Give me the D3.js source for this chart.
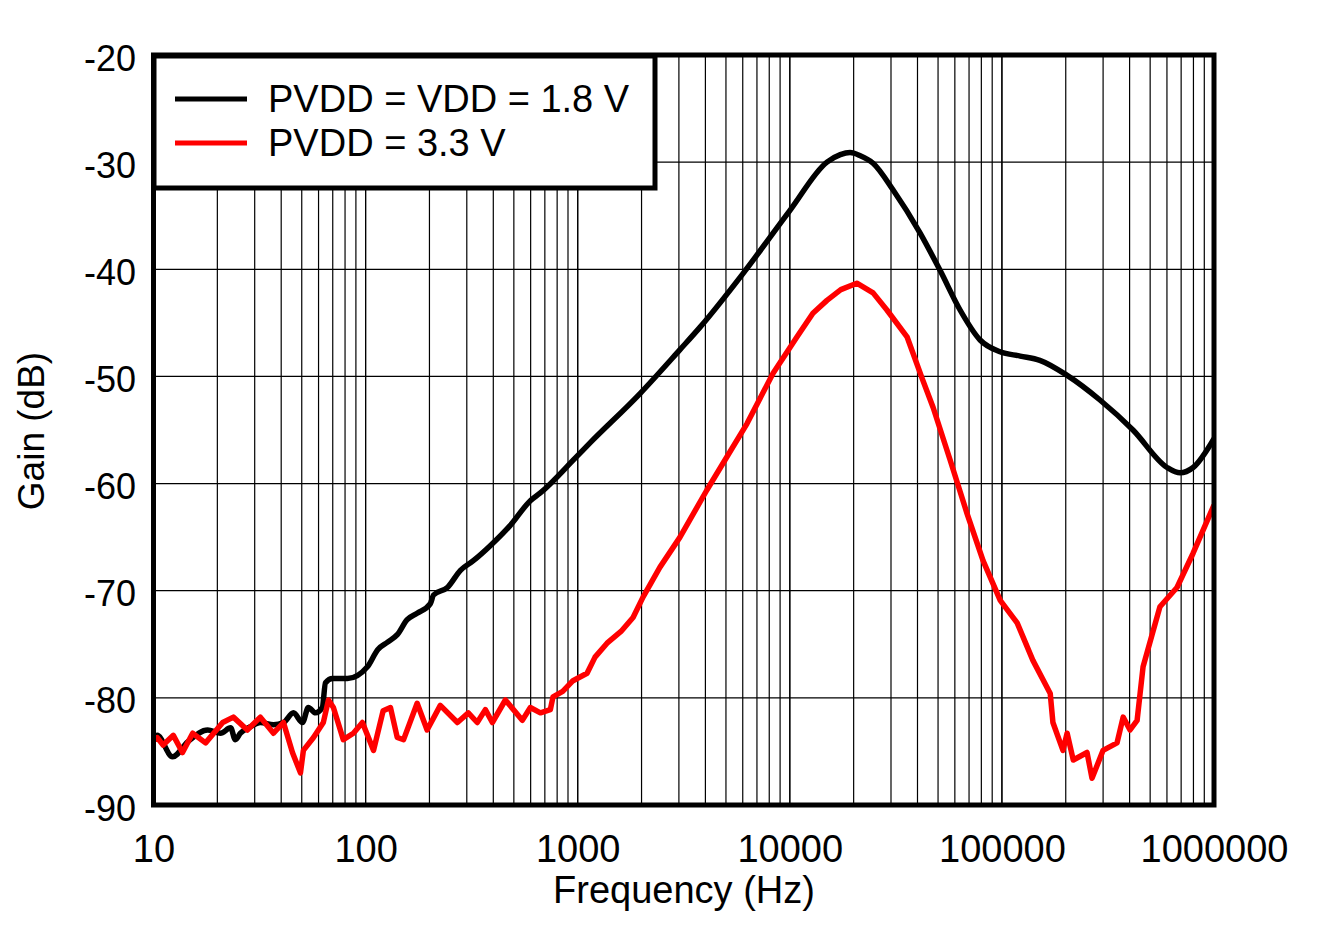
<!DOCTYPE html>
<html>
<head>
<meta charset="utf-8">
<script src="https://cdn.jsdelivr.net/npm/d3@7"></script>
<style>
  html, body { margin: 0; padding: 0; background: #fff; }
  svg { display: block; }
  text { font-family: "Liberation Sans", Arial, sans-serif; fill: #000; }
</style>
</head>
<body>
<svg id="chart" width="1319" height="927"></svg>
<script>
// ---------- data ----------
const xTickValues = [10, 100, 1000, 10000, 100000, 1000000];
const xTickLabels = ["10", "100", "1000", "10000", "100000", "1000000"];
const yTickValues = [-20, -30, -40, -50, -60, -70, -80, -90];
const yTickLabels = ["-20", "-30", "-40", "-50", "-60", "-70", "-80", "-90"];

const seriesNames = ["PVDD = VDD = 1.8 V", "PVDD = 3.3 V"];
const seriesColors = ["#000000", "#ff0000"];

const freqBlack = [10, 10.4, 12.3, 14.5, 18.0, 20.7, 23.1, 24.3, 25.7, 28.6,
  31.9, 36.8, 41.0, 45.7, 50.4, 53.7, 58.0, 62.5, 64.7, 69.8,
  82.1, 102, 114, 127, 141, 157, 175, 202, 209, 243,
  280, 322, 387, 481, 598, 664, 975, 1143, 1967, 3036,
  3776, 6015, 10020, 14970, 17300, 19230, 21500, 24700, 30700, 41100,
  51100, 63500, 78900, 98000, 122000, 151000, 203000, 290000, 415000, 601000,
  692000, 797000, 1000000];
const gainBlack = [-83.7, -83.5, -85.5, -84.1, -83.0, -83.3, -82.8, -83.9, -83.3, -82.7,
  -82.3, -82.5, -82.3, -81.4, -82.3, -80.9, -81.4, -80.9, -78.6, -78.2,
  -78.2, -77.1, -75.5, -74.8, -74.1, -72.7, -72.1, -71.2, -70.4, -69.7,
  -68.1, -67.2, -65.8, -63.9, -61.6, -60.9, -57.6, -56.2, -51.6, -47.5,
  -45.4, -40.4, -34.5, -30.0, -29.3, -29.1, -29.4, -30.1, -32.6, -36.6,
  -40.1, -43.8, -46.6, -47.7, -48.1, -48.5, -49.9, -52.2, -55.0, -58.5,
  -59.0, -58.5, -55.8];

const freqRed = [10, 10.4, 11.1, 12.4, 13.7, 15.3, 17.6, 21.2, 23.8, 27.7,
  31.9, 36.8, 41.0, 45.2, 49.3, 50.9, 56.8, 63.2, 66.8, 70.5,
  78.5, 87.6, 96.6, 109, 121, 131, 141, 151, 175, 195,
  225, 271, 305, 336, 367, 396, 456, 548, 598, 667,
  743, 765, 850, 950, 1107, 1207, 1375, 1600, 1824, 2032,
  2443, 3036, 4066, 5055, 6286, 8340, 10820, 12850, 14970, 17400,
  20700, 24700, 28700, 35700, 42100, 47400, 57000, 68500, 81500, 98200,
  118000, 140000, 169000, 174000, 194000, 203000, 217000, 252000, 266000, 300000,
  349000, 373000, 402000, 434000, 463000, 556000, 669000, 797000, 1000000];
const gainRed = [-83.9, -83.7, -84.4, -83.5, -85.1, -83.3, -84.2, -82.3, -81.8, -83.0,
  -81.8, -83.3, -82.3, -85.1, -87.0, -84.9, -83.7, -82.3, -80.2, -80.9,
  -83.9, -83.3, -82.3, -84.9, -81.2, -80.9, -83.7, -83.9, -80.5, -83.0,
  -80.7, -82.3, -81.4, -82.3, -81.1, -82.3, -80.2, -82.1, -80.9, -81.4,
  -81.1, -79.9, -79.4, -78.4, -77.7, -76.2, -74.9, -73.8, -72.5, -70.6,
  -67.8, -65.0, -60.6, -57.5, -54.4, -49.7, -46.3, -44.1, -42.9, -41.9,
  -41.3, -42.2, -43.8, -46.3, -50.2, -52.9, -57.8, -62.8, -67.2, -70.9,
  -73.0, -76.5, -79.6, -82.3, -84.9, -83.3, -85.8, -85.1, -87.5, -84.9,
  -84.2, -81.8, -83.0, -82.1, -77.1, -71.5, -69.7, -66.5, -62.0];

// ---------- layout ----------
const svg = d3.select("#chart");
const L = 153.5, R = 1214, T = 55, B = 805;

const x = d3.scaleLog().domain([10, 1000000]).range([L, R]);
const y = d3.scaleLinear().domain([-90, -20]).range([B, T]);

svg.append("defs").append("clipPath").attr("id", "clip")
  .append("rect").attr("x", L).attr("y", T).attr("width", R - L).attr("height", B - T);

// grid lines
const minorTicks = [];
for (let d = 10; d < 1000000; d *= 10) {
  for (let k = 1; k <= 10; k++) minorTicks.push(d * k);
}
svg.append("g").selectAll("line").data(minorTicks).join("line")
  .attr("x1", d => x(d)).attr("x2", d => x(d))
  .attr("y1", T).attr("y2", B)
  .attr("stroke", "#000").attr("stroke-width", 1.2);

svg.append("g").selectAll("line").data(yTickValues).join("line")
  .attr("x1", L).attr("x2", R)
  .attr("y1", d => y(d)).attr("y2", d => y(d))
  .attr("stroke", "#000").attr("stroke-width", 1.2);

// curves
const mk = (fs, gs) => fs.map((f, i) => [f, gs[i]]);
const lineSmooth = d3.line().x(d => x(d[0])).y(d => y(d[1])).curve(d3.curveMonotoneX);
const lineLin = d3.line().x(d => x(d[0])).y(d => y(d[1])).curve(d3.curveLinear);

const gCurves = svg.append("g").attr("clip-path", "url(#clip)");
gCurves.append("path").datum(mk(freqBlack, gainBlack))
  .attr("d", lineSmooth).attr("fill", "none")
  .attr("stroke", seriesColors[0]).attr("stroke-width", 5.5)
  .attr("stroke-linejoin", "round");
gCurves.append("path").datum(mk(freqRed, gainRed))
  .attr("d", lineLin).attr("fill", "none")
  .attr("stroke", seriesColors[1]).attr("stroke-width", 5.5)
  .attr("stroke-linejoin", "round");

// frame
svg.append("rect").attr("x", L).attr("y", T).attr("width", R - L).attr("height", B - T)
  .attr("fill", "none").attr("stroke", "#000").attr("stroke-width", 5);

// axes
const xAxis = d3.axisBottom(x).tickValues(xTickValues)
  .tickFormat((d, i) => xTickLabels[i]).tickSize(0).tickPadding(0);
const gx = svg.append("g").attr("transform", `translate(0,${B})`).call(xAxis);
gx.select(".domain").remove();
gx.selectAll("text").attr("dy", null).attr("y", 57)
  .style("font-size", "38px").style("font-family", "'Liberation Sans', Arial, sans-serif")
  .attr("fill", "#000");

const yAxis = d3.axisLeft(y).tickValues(yTickValues)
  .tickFormat((d, i) => yTickLabels[i]).tickSize(0).tickPadding(0);
const gy = svg.append("g").attr("transform", `translate(136,0)`).call(yAxis);
gy.select(".domain").remove();
gy.selectAll("text").attr("dy", "0.42em").attr("x", 0)
  .style("font-size", "36px").style("font-family", "'Liberation Sans', Arial, sans-serif")
  .attr("fill", "#000");

// axis titles
svg.append("text").attr("x", 684).attr("y", 903).attr("text-anchor", "middle")
  .style("font-size", "38px").text("Frequency (Hz)");
svg.append("text").attr("transform", "translate(44,431) rotate(-90)")
  .attr("text-anchor", "middle").style("font-size", "37px").text("Gain (dB)");

// legend
const lg = svg.append("g");
lg.append("rect").attr("x", 154).attr("y", 56).attr("width", 501).attr("height", 132)
  .attr("fill", "#fff").attr("stroke", "#000").attr("stroke-width", 5);
const legendY = [99, 143];
seriesNames.forEach((name, i) => {
  lg.append("line").attr("x1", 175).attr("x2", 247)
    .attr("y1", legendY[i]).attr("y2", legendY[i])
    .attr("stroke", seriesColors[i]).attr("stroke-width", 5);
  lg.append("text").attr("x", 268).attr("y", legendY[i] + 13)
    .style("font-size", "38px").text(name);
});
</script>
</body>
</html>
